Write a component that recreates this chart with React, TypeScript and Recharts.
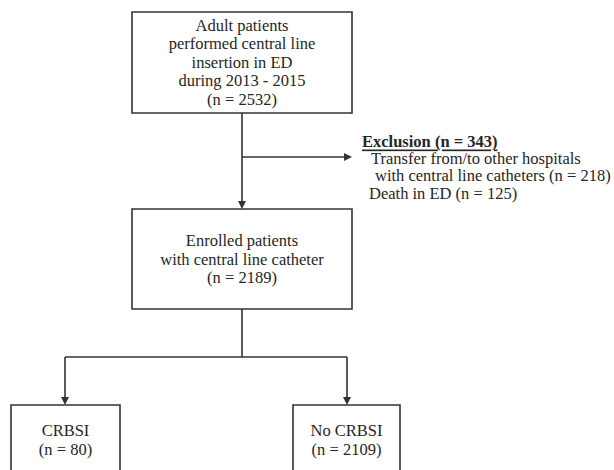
import React from 'react';
import { ComposedChart, XAxis, YAxis, Scatter, ReferenceArea, ReferenceLine } from 'recharts';

// flow stages: text and patient counts
const stageTitles = [
  ['Adult patients', 'performed central line', 'insertion in ED', 'during 2013 - 2015'],
  ['Enrolled patients', 'with central line catheter'],
  ['CRBSI'],
  ['No CRBSI'],
];
const stageCounts = [2532, 2189, 80, 2109];

const exclusionTotal = 343;
const exclusionReasons = ['Transfer from/to other hospitals', 'with central line catheters', 'Death in ED'];
const exclusionCounts = [null, 218, 125];

// layout of the diagram, in chart units (domain 0..614 x 0..470)
const W = 614;
const H = 470;
const boxLeft = [132, 132, 11, 293];
const boxRight = [352, 352, 120, 400];
const boxTop = [12, 209, 405, 405];
const boxBottom = [113, 309, 490, 490];
const boxTextMid = [62, 259, 440, 440];

const INK = '#333';
const TEXT = '#262626';
const FONT = '"Liberation Serif", "Times New Roman", serif';
const FS = 16.5;
const LH = 18.5;

const textBlocks = stageTitles.map((t, i) => ({
  x: (boxLeft[i] + boxRight[i]) / 2,
  y: boxTextMid[i],
  lines: [...t, `(n = ${stageCounts[i]})`],
}));

const exclusionRows = [
  { x: 362, y: 141, text: `Exclusion (n = ${exclusionTotal})`, head: true },
  ...exclusionReasons.map((r, i) => ({
    x: [371, 375, 369][i],
    y: 158 + i * 17.5,
    text: exclusionCounts[i] == null ? r : `${r} (n = ${exclusionCounts[i]})`,
    head: false,
  })),
];

const segments = [
  [[242, 113], [242, 204]],
  [[242, 157], [346, 157]],
  [[242, 309], [242, 357]],
  [[65, 357], [347, 357]],
  [[65, 357], [65, 399]],
  [[347, 357], [347, 399]],
];

const arrowTips = [
  { x: 242, y: 209, dir: 'down' },
  { x: 352, y: 157, dir: 'right' },
  { x: 65, y: 405, dir: 'down' },
  { x: 347, y: 405, dir: 'down' },
];

const BoxText = (props: any) => {
  const { cx, cy, payload } = props;
  const n = payload.lines.length;
  const y0 = cy - ((n - 1) * LH) / 2;
  return (
    <g>
      {payload.lines.map((l: string, i: number) => (
        <text key={i} x={cx} y={y0 + i * LH} textAnchor="middle" dominantBaseline="central"
          fontFamily={FONT} fontSize={FS} fill={TEXT}>{l}</text>
      ))}
    </g>
  );
};

const ExclText = (props: any) => {
  const { cx, cy, payload } = props;
  return (
    <text x={cx} y={cy} dominantBaseline="central" fontFamily={FONT} fontSize={FS}
      fontWeight={payload.head ? 'bold' : 'normal'}
      textDecoration={payload.head ? 'underline' : 'none'} fill={TEXT}>{payload.text}</text>
  );
};

const Arrow = (props: any) => {
  const { cx, cy, payload } = props;
  const pts = payload.dir === 'down'
    ? `${cx},${cy} ${cx - 4},${cy - 8} ${cx + 4},${cy - 8}`
    : `${cx},${cy} ${cx - 8},${cy - 4} ${cx - 8},${cy + 4}`;
  return <polygon points={pts} fill={INK} />;
};

export default function App() {
  return (
    <div style={{ position: 'absolute', left: 0, top: 0, background: '#fff' }}>
      <ComposedChart width={W} height={H} margin={{ top: 0, right: 0, bottom: 0, left: 0 }}>
        <XAxis type="number" dataKey="x" domain={[0, W]} hide allowDataOverflow />
        <YAxis type="number" dataKey="y" domain={[0, H]} reversed hide allowDataOverflow />
        {boxLeft.map((_, i) => (
          <ReferenceArea key={`b${i}`} x1={boxLeft[i]} x2={boxRight[i]} y1={boxTop[i]} y2={boxBottom[i]}
            ifOverflow="visible" fill="#fff" fillOpacity={1} stroke={INK} strokeWidth={1.6} />
        ))}
        {segments.map((s, i) => (
          <ReferenceLine key={`s${i}`} ifOverflow="visible"
            segment={[{ x: s[0][0], y: s[0][1] }, { x: s[1][0], y: s[1][1] }]}
            stroke={INK} strokeWidth={1.6} />
        ))}
        <Scatter data={arrowTips} shape={Arrow} isAnimationActive={false} />
        <Scatter data={textBlocks} shape={BoxText} isAnimationActive={false} />
        <Scatter data={exclusionRows} shape={ExclText} isAnimationActive={false} />
      </ComposedChart>
    </div>
  );
}
